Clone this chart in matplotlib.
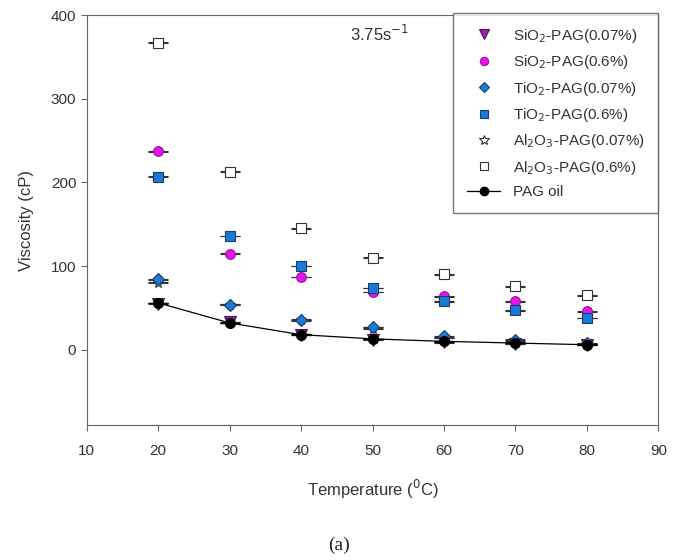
import matplotlib
matplotlib.use("Agg")
import matplotlib.pyplot as plt
from matplotlib.lines import Line2D

plt.rcParams['font.family'] = ['Liberation Sans', 'DejaVu Sans']

temps = [20, 30, 40, 50, 60, 70, 80]

sio2_007 = [55, 33, 18, 12, 9, 7, 6]
sio2_06 = [237, 115, 87, 69, 64, 58, 46]
tio2_007 = [84, 54, 36, 27, 16, 12, 8]
tio2_06 = [207, 136, 100, 74, 58, 47, 38]
al2o3_007 = [80, 54, 35, 25, 14, 10, 7]
al2o3_06 = [367, 213, 145, 110, 90, 76, 65]
pag_oil = [56, 32, 18, 13, 10, 8, 6]

# error bars are tiny, caps show as one short line through each marker
err = 0.4

fig = plt.figure(figsize=(6.78, 5.60), dpi=100)
ax = fig.add_axes([0.128, 0.241, 0.843, 0.732])

ebkw = dict(ls='none', capsize=7, elinewidth=0.8, capthick=0.9, ecolor='#333333')

# (label, values, marker, size, face, edge, zorder)
series = [
    (r'SiO$_2$-PAG(0.07%)', sio2_007, 'v', 8, '#a020b0', '#50105a', 3),
    (r'SiO$_2$-PAG(0.6%)', sio2_06, 'o', 7, '#e614e6', '#a010a0', 3),
    (r'TiO$_2$-PAG(0.07%)', tio2_007, 'D', 6.5, '#1a7ad8', '#1a3c6a', 4),
    (r'TiO$_2$-PAG(0.6%)', tio2_06, 's', 7, '#1a7ad8', '#1a3c6a', 4),
    (r'Al$_2$O$_3$-PAG(0.07%)', al2o3_007, '*', 8, 'white', '#333333', 3),
    (r'Al$_2$O$_3$-PAG(0.6%)', al2o3_06, 's', 7, 'white', '#333333', 3),
]

handles = []
for label, vals, m, ms, fc, ec, z in series:
    ax.errorbar(temps, vals, yerr=err, marker=m, ms=ms, mfc=fc, mec=ec,
                mew=0.8, zorder=z, **ebkw)
    handles.append(Line2D([], [], ls='none', marker=m, ms=ms - 1, mfc=fc,
                          mec=ec, mew=0.8, label=label))

ax.errorbar(temps, pag_oil, yerr=err, marker='o', ms=7, color='black', lw=0.9,
            capsize=7, elinewidth=0.8, capthick=0.9, ecolor='black', zorder=5)
handles.append(Line2D([], [], color='black', lw=0.9, marker='o', ms=6,
                      label='PAG oil'))

ax.set_xlim(10, 90)
ax.set_ylim(-90, 400)
ax.set_xticks([10, 20, 30, 40, 50, 60, 70, 80, 90])
ax.set_yticks([0, 100, 200, 300, 400])

for s in ax.spines.values():
    s.set_color('#666666')
ax.tick_params(colors='#666666', labelcolor='#333333', labelsize=11, length=4)
ax.tick_params(axis='x', pad=10)

ax.set_xlabel('Temperature ($^0$C)', fontsize=12, color='#333333', labelpad=14)
ax.set_ylabel('Viscosity (cP)', fontsize=12, color='#333333', labelpad=12)

ax.text(0.46, 0.955, '3.75s$^{-1}$', transform=ax.transAxes, fontsize=12,
        color='#333333', va='center')

leg = ax.legend(handles=handles, loc='upper right', bbox_to_anchor=(1.0, 1.005),
                fontsize=11, frameon=True, fancybox=False, edgecolor='#555555',
                borderpad=0.9, labelspacing=0.55, handlelength=2.2,
                handletextpad=0.8, borderaxespad=0.0)
leg.get_frame().set_linewidth(1.0)
for t in leg.get_texts():
    t.set_color('#333333')

fig.text(0.5, 0.027, '(a)', fontsize=14, family='Liberation Serif',
         ha='center', va='center', color='#222222')

fig.savefig('out.png', dpi=100)
